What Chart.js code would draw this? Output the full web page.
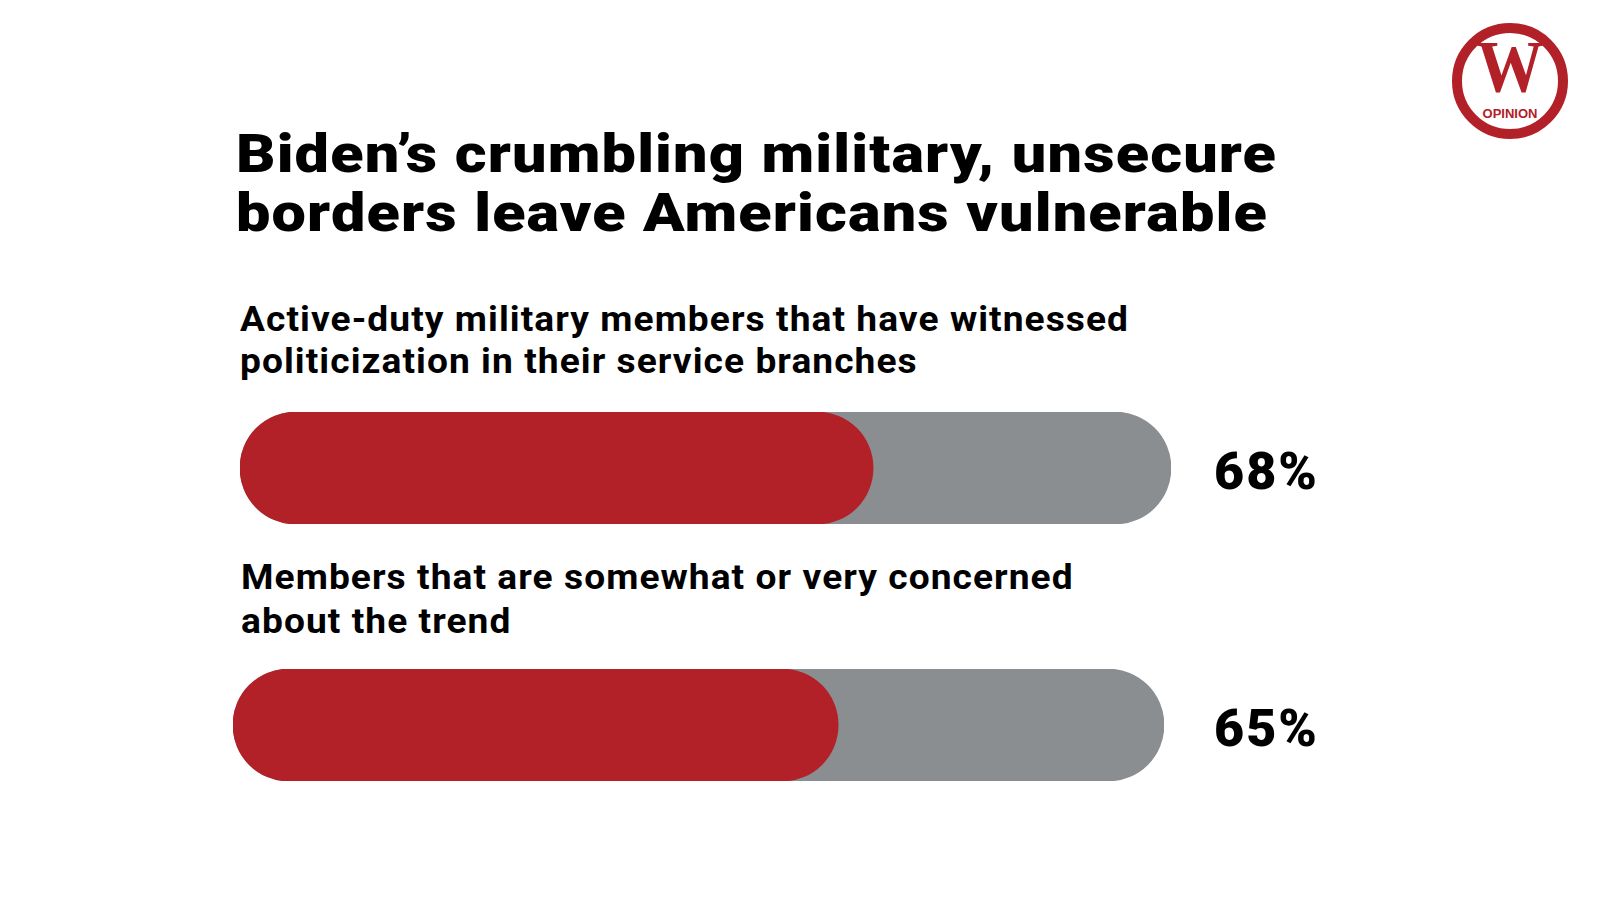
<!DOCTYPE html>
<html>
<head>
<meta charset="utf-8">
<script src="https://cdn.jsdelivr.net/npm/chart.js@4"></script>
<style>
  html, body { margin: 0; padding: 0; background: #fff; }
  body { width: 1600px; height: 900px; position: relative; overflow: hidden; font-family: Roboto, "Noto Sans", sans-serif; color: #000; }
  .line { position: absolute; white-space: nowrap; transform-origin: 0 0; }
  .title { font-size: 53px; font-weight: 900; line-height: 53px; letter-spacing: 1px; }
  .label { font-size: 35px; font-weight: 700; line-height: 35px; letter-spacing: 1px; }
  .bar { position: absolute; height: 112px; }
  .logo { position: absolute; left: 1452px; top: 23px; width: 96px; height: 96px; border: 10px solid #B22028; border-radius: 50%; }
  .logo .w { position: absolute; left: 0; top: 6px; width: 96px; height: 56px; text-align: center; font-family: "Liberation Serif", "DejaVu Serif", serif; font-weight: 700; font-size: 74px; line-height: 56px; color: #B22028; transform: scaleX(0.9); }
  .logo .op { position: absolute; left: 0; top: 75px; width: 96px; height: 12px; text-align: center; font-family: "Liberation Sans Narrow", "Liberation Sans", sans-serif; font-weight: 700; font-size: 13px; line-height: 12px; color: #B22028; }
</style>
</head>
<body>
<div class="logo"><div class="w">W</div><div class="op">OPINION</div></div>
<div class="line title" style="left:236px; top:128px;">Biden’s crumbling military, unsecure</div>
<div class="line title" style="left:236px; top:187px;">borders leave Americans vulnerable</div>
<div id="labels"></div>
<div class="bar" style="left:240px; top:412px; width:1100px;"><canvas id="bar0"></canvas></div>
<div class="bar" style="left:233px; top:669px; width:1107px;"><canvas id="bar1"></canvas></div>
<script>
const categories = [
    ['Active-duty military members that have witnessed', 'politicization in their service branches'],
    ['Members that are somewhat or very concerned', 'about the trend']
];
const shares = [68, 65];
const fullScale = [100, 100];

const redColor = '#B22028';
const grayColor = '#8B8E90';
const labelTops = [[302, 344], [560, 604]];

// textos das categorias acima de cada barra
categories.forEach((lines, i) => {
    lines.forEach((txt, j) => {
        const d = document.createElement('div');
        d.className = 'line label';
        d.style.left = (i === 0 ? 240 : 241) + 'px';
        d.style.top = labelTops[i][j] + 'px';
        d.textContent = txt;
        document.getElementById('labels').appendChild(d);
    });
});

// alarga os textos até a largura da referência
function fitText() {
    const titles = document.querySelectorAll('.title');
    const tScale = 1041 / titles[0].scrollWidth;
    titles.forEach(el => el.style.transform = 'scaleX(' + tScale + ')');
    const labels = document.querySelectorAll('.label');
    const lScale = 889 / labels[0].scrollWidth;
    labels.forEach(el => el.style.transform = 'scaleX(' + lScale + ')');
}
fitText();

const percentLabel = {
    id: 'percentLabel',
    afterDraw(chart) {
        const ctx = chart.ctx;
        const meta = chart.getDatasetMeta(0);
        const value = chart.data.datasets[0].data[0];
        ctx.save();
        ctx.font = '900 52px Roboto, sans-serif';
        ctx.letterSpacing = '2px';
        ctx.fillStyle = '#000';
        ctx.textBaseline = 'alphabetic';
        ctx.textAlign = 'left';
        ctx.fillText(value + '%', chart.width - 126, meta.data[0].y + 21);
        ctx.restore();
    }
};

function makeBar(i) {
    const canvas = document.getElementById('bar' + i);
    const rightPad = canvas.parentNode.clientWidth - 931;
    return new Chart(canvas.getContext('2d'), {
        type: 'bar',
        data: {
            labels: [categories[i].join(' ')],
            datasets: [{
                data: [shares[i]],
                backgroundColor: redColor,
                borderRadius: 56,
                borderSkipped: false,
                grouped: false,
                order: 0,
                barPercentage: 1,
                categoryPercentage: 1
            }, {
                data: [fullScale[i]],
                backgroundColor: grayColor,
                borderRadius: 56,
                borderSkipped: false,
                grouped: false,
                order: 1,
                barPercentage: 1,
                categoryPercentage: 1
            }]
        },
        options: {
            indexAxis: 'y',
            responsive: true,
            maintainAspectRatio: false,
            animation: false,
            layout: { padding: { left: 0, right: rightPad, top: 0, bottom: 0 } },
            plugins: { legend: { display: false }, tooltip: { enabled: false } },
            scales: {
                x: { display: false, min: 0, max: 100 },
                y: { display: false }
            }
        },
        plugins: [percentLabel]
    });
}

makeBar(0);
makeBar(1);
</script>
</body>
</html>
